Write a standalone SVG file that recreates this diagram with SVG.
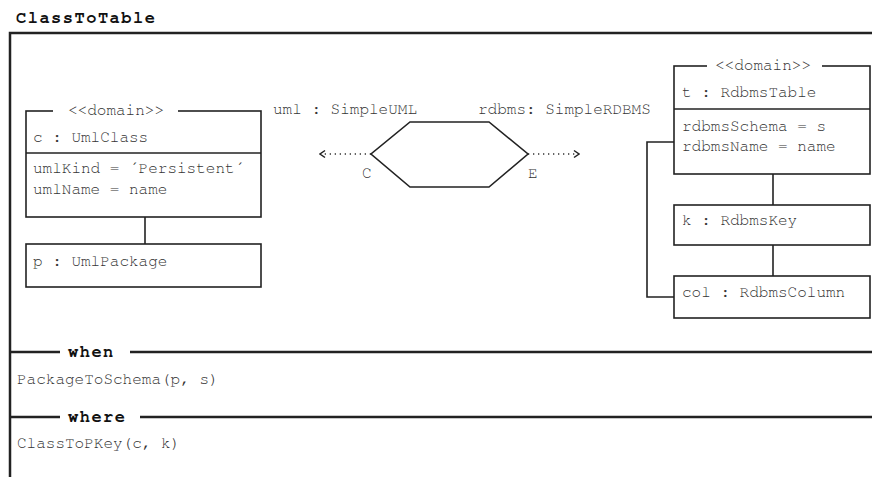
<svg xmlns="http://www.w3.org/2000/svg" width="872" height="477" viewBox="0 0 872 477">
  <defs>
    <style>
      .t { font-family: "Nimbus Mono PS", "Nimbus Mono L", "FreeMono", "Courier New", "Liberation Mono", monospace; font-size: 16px; fill: #333; }
      .b { font-family: "Nimbus Mono PS", "Nimbus Mono L", "FreeMono", "Courier New", "Liberation Mono", monospace; font-size: 17px; font-weight: bold; fill: #111; letter-spacing: 1.5px; }
      .box { fill: #fff; stroke: #222; stroke-width: 1.6; }
      .ln { fill: none; stroke: #222; stroke-width: 1.6; }
      .frame { fill: none; stroke: #222; stroke-width: 2.5; }
      .dot { fill: none; stroke: #333; stroke-width: 1.3; stroke-dasharray: 1.3 3.7; }
    </style>
    <marker id="open" viewBox="0 0 10 10" refX="9" refY="5" markerWidth="10" markerHeight="10" markerUnits="userSpaceOnUse" orient="auto-start-reverse">
      <path d="M4,1.5 L9,5 L4,8.5" fill="none" stroke="#222" stroke-width="1.5"/>
    </marker>
  </defs>
  <rect width="872" height="477" fill="#fff"/>

  <!-- rule frame -->
  <g id="frame">
    <text class="b" x="16" y="23">ClassToTable</text>
    <path class="frame" d="M10,477 V33 H872"/>
  </g>

  <!-- connectors -->
  <g id="connectors">
    <line class="ln" x1="145" y1="217" x2="145" y2="244"/>
    <line class="ln" x1="773" y1="174" x2="773" y2="205"/>
    <line class="ln" x1="773" y1="245" x2="773" y2="276"/>
    <path class="ln" d="M674,142 H647 V297 H674"/>
    <line class="dot" x1="371" y1="154" x2="320" y2="154" marker-end="url(#open)"/>
    <line class="dot" x1="528" y1="154" x2="579" y2="154" marker-end="url(#open)"/>
  </g>

  <!-- relation hexagon -->
  <g id="relation">
    <polygon points="410,122 489,122 528,154 489,187 410,187 371,154" fill="#fff" stroke="#222" stroke-width="1.6"/>
    <text class="t" x="273" y="114">uml : SimpleUML</text>
    <text class="t" x="478" y="114">rdbms: SimpleRDBMS</text>
    <text class="t" x="362" y="178">C</text>
    <text class="t" x="528" y="178">E</text>
  </g>

  <!-- source domain -->
  <g id="c">
    <rect class="box" x="26" y="111" width="235" height="106"/>
    <rect x="53" y="104" width="125" height="12" fill="#fff"/>
    <text class="t" x="68" y="115">&lt;&lt;domain&gt;&gt;</text>
    <line class="ln" x1="26" y1="153" x2="261" y2="153"/>
    <text class="t" x="33" y="142">c : UmlClass</text>
    <text class="t" x="33" y="173">umlKind = ´Persistent´</text>
    <text class="t" x="33" y="194">umlName = name</text>
  </g>
  <g id="p">
    <rect class="box" x="26" y="244" width="235" height="43"/>
    <text class="t" x="33" y="266">p : UmlPackage</text>
  </g>

  <!-- target domain -->
  <g id="t">
    <rect class="box" x="674" y="66" width="196" height="108"/>
    <rect x="707" y="59" width="115" height="12" fill="#fff"/>
    <text class="t" x="715" y="70">&lt;&lt;domain&gt;&gt;</text>
    <line class="ln" x1="674" y1="109" x2="870" y2="109"/>
    <text class="t" x="682" y="97">t : RdbmsTable</text>
    <text class="t" x="682" y="131">rdbmsSchema = s</text>
    <text class="t" x="682" y="151">rdbmsName = name</text>
  </g>
  <g id="k">
    <rect class="box" x="674" y="205" width="196" height="40"/>
    <text class="t" x="682" y="225">k : RdbmsKey</text>
  </g>
  <g id="col">
    <rect class="box" x="674" y="276" width="196" height="42"/>
    <text class="t" x="682" y="297">col : RdbmsColumn</text>
  </g>

  <!-- when / where clauses -->
  <g id="when">
    <path class="frame" d="M10,352 H60 M130,352 H872"/>
    <text class="b" x="68" y="357">when</text>
    <text class="t" x="17" y="384">PackageToSchema(p, s)</text>
  </g>
  <g id="where">
    <path class="frame" d="M10,417 H60 M140,417 H872"/>
    <text class="b" x="68" y="422">where</text>
    <text class="t" x="17" y="448">ClassToPKey(c, k)</text>
  </g>
</svg>
